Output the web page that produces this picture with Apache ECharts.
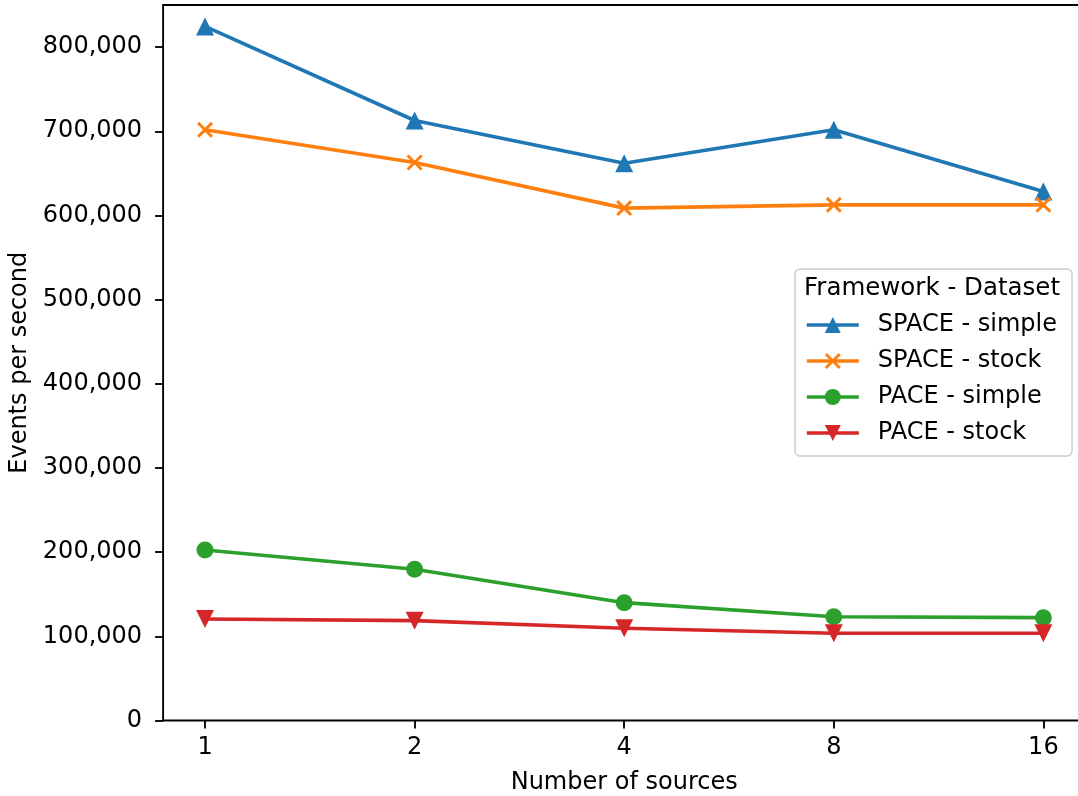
<!DOCTYPE html>
<html>
<head>
<meta charset="utf-8">
<script src="https://cdn.jsdelivr.net/npm/echarts@6/dist/echarts.min.js"></script>
<style>
  html, body { margin: 0; padding: 0; background: #fff; }
  #chart { width: 1078px; height: 796px; }
</style>
</head>
<body>
<div id="chart"></div>
<script>
// Throughput per number of sources, per framework and dataset
const sources = ['1', '2', '4', '8', '16'];
const spaceSimple = [824500, 712800, 662100, 701700, 628400];
const spaceStock = [701700, 662900, 608700, 612600, 612600];
const paceSimple = [202600, 179700, 140000, 123300, 122200];
const paceStock = [120600, 118600, 109600, 103600, 103600];
const yTicks = [0, 100000, 200000, 300000, 400000, 500000, 600000, 700000, 800000];

const FONT = 'DejaVu Sans';
const FS = 24;
const LW = 3.6;
const crossPath = 'path://M0,2.6L2.6,0L10,7.4L17.4,0L20,2.6L12.6,10L20,17.4L17.4,20L10,12.6L2.6,20L0,17.4L7.4,10Z';

function withCommas(v) {
  return String(v).replace(/\B(?=(\d{3})+(?!\d))/g, ',');
}
function pairs(values) {
  return values.map((v, i) => [i, v]);
}
function lineSeries(name, values, color, symbol, size, rotate) {
  return {
    name: name,
    type: 'line',
    data: pairs(values),
    symbol: symbol,
    symbolSize: size,
    symbolRotate: rotate || 0,
    symbolKeepAspect: true,
    showSymbol: true,
    color: color,
    lineStyle: { width: LW, color: color },
    itemStyle: { color: color, borderWidth: 0 },
    emphasis: { disabled: true }
  };
}

const chart = echarts.init(document.getElementById('chart'), null, { renderer: 'canvas' });
chart.setOption({
  animation: false,
  textStyle: { fontFamily: FONT },
  grid: {
    left: 163.1, top: 5, width: 922.2, height: 715.5,
    containLabel: false,
    outerBoundsMode: 'none',
    show: true, borderColor: '#000', borderWidth: 1.85, backgroundColor: 'transparent'
  },
  xAxis: {
    type: 'value',
    min: -0.2,
    max: 4.2,
    name: 'Number of sources',
    nameLocation: 'middle',
    nameGap: 50,
    nameTextStyle: { fontSize: FS, color: '#000', fontFamily: FONT },
    axisLine: { show: false, onZero: false },
    splitLine: { show: false },
    axisTick: { show: true, customValues: [0, 1, 2, 3, 4], length: 8, lineStyle: { color: '#000', width: 1.85 } },
    axisLabel: {
      customValues: [0, 1, 2, 3, 4],
      formatter: v => sources[Math.round(v)],
      fontSize: FS, color: '#000', fontFamily: FONT, margin: 15
    }
  },
  yAxis: {
    type: 'value',
    min: 0,
    max: 850000,
    name: 'Events per second',
    nameLocation: 'middle',
    nameGap: 131,
    nameRotate: 90,
    nameTextStyle: { fontSize: FS, color: '#000', fontFamily: FONT },
    axisLine: { show: false, onZero: false },
    splitLine: { show: false },
    axisTick: { show: true, customValues: yTicks, length: 8, lineStyle: { color: '#000', width: 1.85 } },
    axisLabel: {
      customValues: yTicks,
      formatter: v => withCommas(v),
      fontSize: FS, color: '#000', fontFamily: FONT, margin: 21
    }
  },
  legend: {
    orient: 'vertical',
    left: 795,
    top: 269,
    padding: [44, 15, 11, 10],
    itemWidth: 52,
    itemHeight: 20,
    itemGap: 12,
    backgroundColor: 'rgba(255,255,255,0.8)',
    borderColor: '#cccccc',
    borderWidth: 1.5,
    borderRadius: 5,
    lineStyle: { width: LW },
    selectedMode: false,
    textStyle: { fontSize: FS, color: '#000', fontFamily: FONT, lineHeight: 24, padding: [0, 0, 0, 14] },
    data: ['SPACE - simple', 'SPACE - stock', 'PACE - simple', 'PACE - stock']
  },
  graphic: [{
    type: 'text',
    left: 804,
    top: 276,
    style: { text: 'Framework - Dataset', fontSize: 24.5, fontFamily: FONT, fill: '#000' },
    z: 100
  }],
  series: [
    lineSeries('SPACE - simple', spaceSimple, '#1f77b4', 'triangle', 18),
    lineSeries('SPACE - stock', spaceStock, '#ff7f0e', crossPath, 16),
    lineSeries('PACE - simple', paceSimple, '#2ca02c', 'circle', 17),
    lineSeries('PACE - stock', paceStock, '#d62728', 'triangle', 18, 180)
  ]
});
</script>
</body>
</html>
